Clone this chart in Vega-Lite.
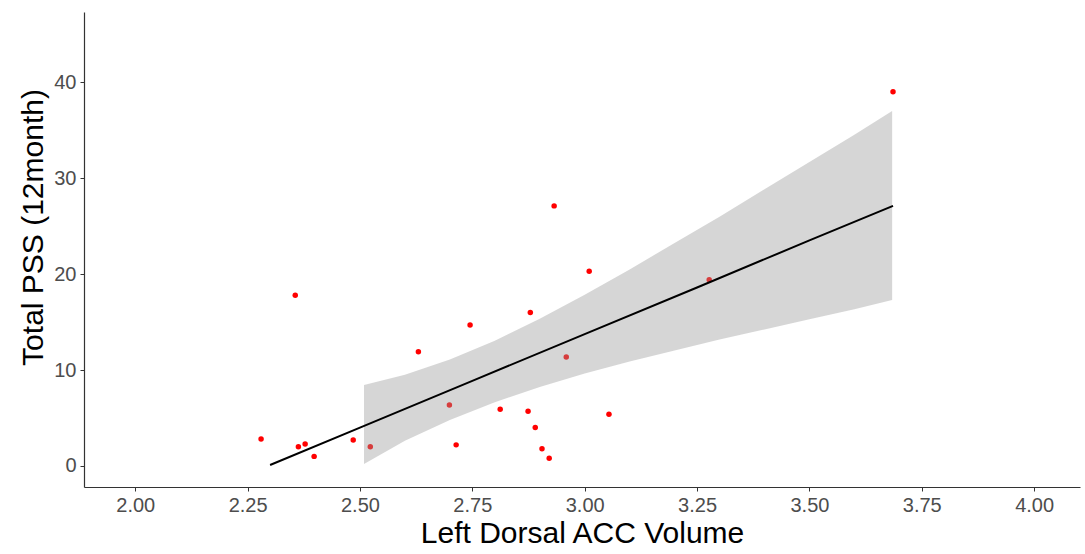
{
  "$schema": "https://vega.github.io/schema/vega-lite/v6.json",
  "width": 996,
  "height": 475,
  "autosize": {"type": "none"},
  "padding": {"left": 84, "top": 12, "right": 5, "bottom": 67},
  "background": "white",
  "config": {
    "view": {"stroke": null},
    "font": "Liberation Sans",
    "axis": {
      "grid": false,
      "domainColor": "#333333",
      "domainWidth": 1.2,
      "tickColor": "#333333",
      "tickSize": 4,
      "labelColor": "#4d4d4d",
      "labelFontSize": 20,
      "labelFont": "Liberation Sans",
      "titleFont": "Liberation Sans",
      "titleFontSize": 30,
      "titleFontWeight": "normal",
      "titleColor": "black"
    }
  },
  "datasets": {
    "pts": [
      {"vol": 2.280, "pss": 2.8},
      {"vol": 2.356, "pss": 17.8},
      {"vol": 2.363, "pss": 2.0},
      {"vol": 2.378, "pss": 2.3},
      {"vol": 2.398, "pss": 1.0},
      {"vol": 2.485, "pss": 2.7},
      {"vol": 2.523, "pss": 2.0},
      {"vol": 2.630, "pss": 11.9},
      {"vol": 2.699, "pss": 6.35},
      {"vol": 2.714, "pss": 2.2},
      {"vol": 2.745, "pss": 14.7},
      {"vol": 2.812, "pss": 5.9},
      {"vol": 2.874, "pss": 5.7},
      {"vol": 2.879, "pss": 16.0},
      {"vol": 2.890, "pss": 4.0},
      {"vol": 2.905, "pss": 1.8},
      {"vol": 2.921, "pss": 0.8},
      {"vol": 2.932, "pss": 27.1},
      {"vol": 2.959, "pss": 11.35},
      {"vol": 3.010, "pss": 20.3},
      {"vol": 3.054, "pss": 5.4},
      {"vol": 3.277, "pss": 19.4},
      {"vol": 3.686, "pss": 39.0}
    ],
    "fit": [
      {"vol": 2.300, "pss": 0.1},
      {"vol": 2.500, "pss": 4.0},
      {"vol": 2.750, "pss": 8.87},
      {"vol": 3.000, "pss": 13.74},
      {"vol": 3.250, "pss": 18.6},
      {"vol": 3.500, "pss": 23.5},
      {"vol": 3.686, "pss": 27.1}
    ],
    "band": [
      {"vol": 2.509, "lo": 0.21, "hi": 8.44},
      {"vol": 2.6, "lo": 2.64, "hi": 9.5},
      {"vol": 2.7, "lo": 4.79, "hi": 11.1},
      {"vol": 2.8, "lo": 6.64, "hi": 13.04},
      {"vol": 2.9, "lo": 8.24, "hi": 15.34},
      {"vol": 3.0, "lo": 9.64, "hi": 17.84},
      {"vol": 3.1, "lo": 10.88, "hi": 20.48},
      {"vol": 3.2, "lo": 12.03, "hi": 23.23},
      {"vol": 3.3, "lo": 13.18, "hi": 25.98},
      {"vol": 3.4, "lo": 14.23, "hi": 28.83},
      {"vol": 3.5, "lo": 15.28, "hi": 31.68},
      {"vol": 3.6, "lo": 16.32, "hi": 34.52},
      {"vol": 3.684, "lo": 17.29, "hi": 36.98}
    ]
  },
  "layer": [
    {
      "data": {"name": "pts"},
      "mark": {"type": "point", "filled": true, "color": "#ff0000", "opacity": 1, "size": 30},
      "encoding": {
        "x": {
          "field": "vol", "type": "quantitative",
          "scale": {"domain": [1.886, 4.102], "nice": false, "zero": false},
          "axis": {"values": [2.0, 2.25, 2.5, 2.75, 3.0, 3.25, 3.5, 3.75, 4.0], "format": ".2f", "title": "Left Dorsal ACC Volume", "titlePadding": 3, "labelPadding": 4}
        },
        "y": {
          "field": "pss", "type": "quantitative",
          "scale": {"domain": [-2.19, 47.3], "nice": false, "zero": false},
          "axis": {"values": [0, 10, 20, 30, 40], "title": "Total PSS (12month)", "titlePadding": 5, "titleY": 215, "labelPadding": 4}
        }
      }
    },
    {
      "data": {"name": "band"},
      "mark": {"type": "area", "color": "#999999", "opacity": 0.4},
      "encoding": {
        "x": {"field": "vol", "type": "quantitative"},
        "y": {"field": "lo", "type": "quantitative"},
        "y2": {"field": "hi"}
      }
    },
    {
      "data": {"name": "fit"},
      "mark": {"type": "line", "color": "black", "strokeWidth": 2},
      "encoding": {
        "x": {"field": "vol", "type": "quantitative"},
        "y": {"field": "pss", "type": "quantitative"}
      }
    }
  ]
}
